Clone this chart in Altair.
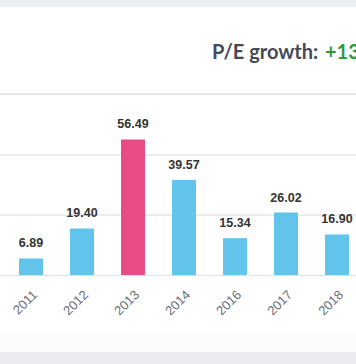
import altair as alt
import pandas as pd

years = ["2011", "2012", "2013", "2014", "2016", "2017", "2018"]
pe = [6.89, 19.40, 56.49, 39.57, 15.34, 26.02, 16.90]
highlight = [False, False, True, False, False, False, False]
grid_vals = [25, 50]
title_text = "P/E growth:"
growth_text = "+138.72%"

bars_df = pd.DataFrame({"year": years, "pe": pe, "hl": highlight,
                        "label": [f"{v:.2f}" for v in pe]})
grid_df = pd.DataFrame({"v": grid_vals})
one = pd.DataFrame({"a": [0]})

W, H = 330, 180
xs = alt.Scale(domain=years, paddingInner=0.53, paddingOuter=0)
ys = alt.Scale(domain=[0, 75], nice=False)

bg_top = alt.Chart(one).mark_rect(color="#eceef2").encode(
    x=alt.value(-19), x2=alt.value(337), y=alt.value(-95), y2=alt.value(-88))
bg_foot = alt.Chart(one).mark_rect(color="#fbfbfc").encode(
    x=alt.value(-19), x2=alt.value(337), y=alt.value(236), y2=alt.value(257))
bg_bot = alt.Chart(one).mark_rect(color="#e9ebef").encode(
    x=alt.value(-19), x2=alt.value(337), y=alt.value(257), y2=alt.value(269))

sep = alt.Chart(one).mark_rule(color="#e8e8e8", strokeWidth=2).encode(
    x=alt.value(-19), x2=alt.value(337), y=alt.value(-1))

grid = alt.Chart(grid_df).mark_rule(color="#e6e6e6", strokeWidth=1.5).encode(
    y=alt.Y("v:Q", scale=ys, axis=None), x=alt.value(-19), x2=alt.value(337))

base_line = alt.Chart(one).mark_rule(color="#dde2ea", strokeWidth=1).encode(
    x=alt.value(-19), x2=alt.value(337), y=alt.value(H + 0.5))

title1 = alt.Chart(one).mark_text(
    text=title_text, font="Lato", fontSize=20, fontWeight="bold", color="#454b56",
    align="left", baseline="alphabetic").encode(
    x=alt.value(193), y=alt.value(-36))
title2 = alt.Chart(one).mark_text(
    text=growth_text, font="Lato", fontSize=20, fontWeight="bold", color="#2e9b3a",
    align="left", baseline="alphabetic").encode(
    x=alt.value(306), y=alt.value(-36))

bars = alt.Chart(bars_df).mark_bar().encode(
    x=alt.X("year:N", scale=xs, sort=years,
            axis=alt.Axis(title=None, labelAngle=-45, domain=False, ticks=False,
                          labelFont="Liberation Sans", labelFontSize=13,
                          labelColor="#6a6e7a", labelPadding=13, grid=False)),
    y=alt.Y("pe:Q", scale=ys, axis=None),
    color=alt.Color("hl:N", scale=alt.Scale(domain=[False, True],
                                            range=["#63c4eb", "#e94b87"]),
                    legend=None),
)

labels = alt.Chart(bars_df).mark_text(
    font="Liberation Sans", fontSize=12.5, fontWeight="bold", color="#333333",
    baseline="alphabetic", dy=-11).encode(
    x=alt.X("year:N", scale=xs, sort=years),
    y=alt.Y("pe:Q", scale=ys),
    text="label:N")

chart = alt.layer(bg_top, bg_foot, bg_bot, sep, grid, base_line, bars, labels,
                  title1, title2).properties(
    width=W, height=H,
    autosize=alt.AutoSizeParams(type="none"),
    padding={"left": 19, "top": 95, "right": 7, "bottom": 89},
    background="white",
).configure_view(stroke=None)

chart.save("out.html", embed_options={"renderer": "svg", "actions": False})
